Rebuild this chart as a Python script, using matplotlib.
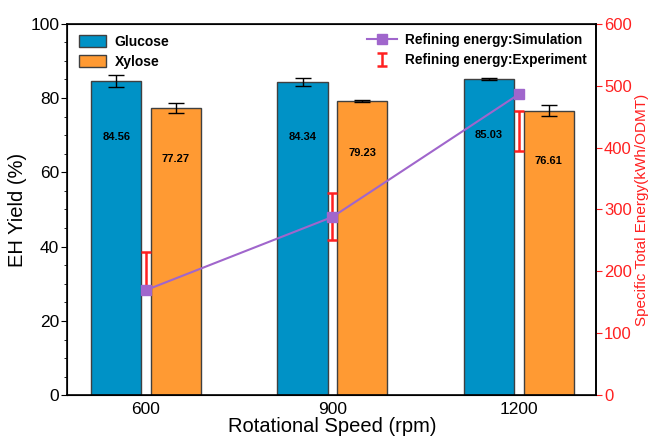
import numpy as np
import matplotlib.pyplot as plt
from matplotlib.ticker import MultipleLocator

plt.rcParams['font.family'] = ['Liberation Sans', 'DejaVu Sans']

# data
speeds = ['600', '900', '1200']
glucose = [84.56, 84.34, 85.03]
glucose_err = [1.5, 1.0, 0.3]
xylose = [77.27, 79.23, 76.61]
xylose_err = [1.4, 0.3, 1.5]
energy_sim = [170, 288, 486]
energy_exp = [201, 289, 427]
energy_exp_err = [31, 38, 32]

blue = '#0092C6'
orange = '#FF9A33'
purple = '#A066CC'
red = '#FF2020'

fig = plt.figure(figsize=(6.49, 4.36), dpi=100)
ax = fig.add_axes([0.104, 0.093, 0.815, 0.853])
x = np.arange(len(speeds))
w = 0.27
off = 0.16

b1 = ax.bar(x - off, glucose, w, color=blue, edgecolor='#404040', linewidth=1,
            yerr=glucose_err, capsize=5.8, error_kw=dict(elinewidth=1, capthick=1, ecolor='black'),
            label='Glucose')
b2 = ax.bar(x + off, xylose, w, color=orange, edgecolor='#404040', linewidth=1,
            yerr=xylose_err, capsize=5.8, error_kw=dict(elinewidth=1, capthick=1, ecolor='black'),
            label='Xylose')

# value labels inside the bars
for xi, v in zip(x - off, glucose):
    ax.text(xi, v * 0.823, f'{v:.2f}', ha='center', va='center', fontsize=8, fontweight='bold')
for xi, v in zip(x + off, xylose):
    ax.text(xi, v * 0.823, f'{v:.2f}', ha='center', va='center', fontsize=8, fontweight='bold')

ax.set_ylim(0, 100)
ax.set_xlim(-0.421, 2.416)
ax.set_xticks(x)
ax.set_xticklabels(speeds)
ax.yaxis.set_major_locator(MultipleLocator(20))
ax.yaxis.set_minor_locator(MultipleLocator(5))
ax.tick_params(axis='y', which='major', length=4.5, labelsize=12.5, pad=1.5)
ax.tick_params(axis='y', which='minor', length=2.5)
ax.tick_params(axis='x', length=0, labelsize=12.5, pad=5)
ax.set_xlabel('Rotational Speed (rpm)', fontsize=14.5, labelpad=0)
ax.set_ylabel('EH Yield (%)', fontsize=14.5, labelpad=2)
for s in ax.spines.values():
    s.set_linewidth(1.2)

ax2 = ax.twinx()
ax2.set_ylim(0, 600)
ax2.yaxis.set_major_locator(MultipleLocator(100))
ln, = ax2.plot(x, energy_sim, '-s', color=purple, lw=1.5, ms=7,
               label='Refining energy:Simulation')
eb = ax2.errorbar(x, energy_exp, yerr=energy_exp_err, fmt='none', ecolor=red,
                  elinewidth=1.8, capsize=3.4, capthick=1.8,
                  label='Refining energy:Experiment', zorder=1)
ln.set_zorder(3)
ax2.tick_params(axis='y', colors=red, length=4.5, labelsize=12, pad=1)
ax2.set_ylabel('Specific Total Energy(kWh/ODMT)', color=red, fontsize=11, labelpad=2)
ax2.spines['right'].set_color('black')
ax2.spines['right'].set_linewidth(1.2)

ax.legend(handles=[b1, b2], loc='upper left', frameon=False,
          prop=dict(weight='bold', size=10), handlelength=2.0, handleheight=0.9,
          handletextpad=0.6, bbox_to_anchor=(0.0, 1.0), borderaxespad=0.4, labelspacing=0.45)
ax2.legend(handles=[ln, eb], loc='upper right', frameon=False,
           prop=dict(weight='bold', size=9.8), handlelength=2.2, handletextpad=0.6,
           bbox_to_anchor=(1.0, 1.0), borderaxespad=0.3, labelspacing=0.45)

fig.savefig('out.png', dpi=100)
